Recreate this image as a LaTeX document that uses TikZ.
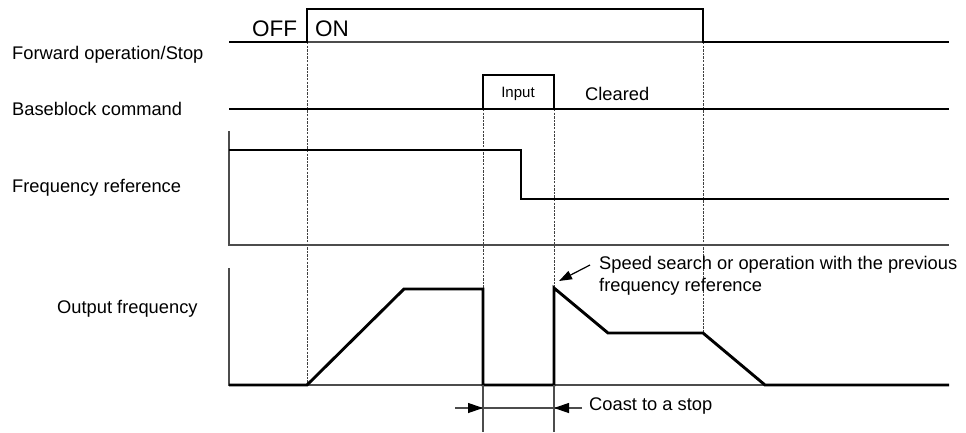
\documentclass[tikz,border=0pt]{standalone}
\usepackage{fontspec}
\setmainfont{Liberation Sans}
\usetikzlibrary{arrows.meta}
\begin{document}
\begin{tikzpicture}[x=1pt,y=-1pt,
  sig/.style={line width=2.9pt,black},
  axisl/.style={line width=1.2pt,black!70},
  guide/.style={line width=0.9pt,black!75,dash pattern=on 2.4pt off 1.2pt},
  lbl/.style={inner sep=0pt,anchor=base west,font=\fontsize{18.3}{22}\selectfont},
  biglbl/.style={inner sep=0pt,anchor=base west,font=\fontsize{22.5}{26}\selectfont},
  smalllbl/.style={inner sep=0pt,anchor=base,font=\fontsize{15}{18}\selectfont},
  tipstyle/.style={-{Triangle[length=15pt,width=10pt,color=black]}},
  pointer/.style={line width=1.2pt,-{Triangle[length=13pt,width=9pt]}}
]
\useasboundingbox (0,0) rectangle (966,432);

% ---- guide (dashed) lines
\coordinate (g1t) at (307,42);  \coordinate (g1b) at (307,385);
\coordinate (g2t) at (483,109); \coordinate (g2b) at (483,289);
\coordinate (g3t) at (554,109); \coordinate (g3b) at (554,288);
\coordinate (g4t) at (703,42);  \coordinate (g4b) at (703,333);
\draw[guide] (g1t) -- (g1b);
\draw[guide] (g2t) -- (g2b);
\draw[guide] (g3t) -- (g3b);
\draw[guide] (g4t) -- (g4b);

% ---- axes
\draw[axisl] (229,131) -- (229,245) -- (949,245);
\draw[axisl] (229,268) -- (229,385) -- (949,385);
\draw[axisl] (307,42) -- (703,42);

% ---- Forward operation/Stop
\draw[sig] (229,42) -- (307,42) -- (307,9) -- (703,9) -- (703,42) -- (949,42);
% ---- Baseblock command
\draw[sig] (229,109) -- (483,109) -- (483,75) -- (554,75) -- (554,109) -- (949,109);
\draw[sig] (483,109) -- (554,109);
% ---- Frequency reference
\draw[sig] (229,150) -- (521,150) -- (521,199) -- (949,199);
% ---- Output frequency
\draw[sig] (229,385) -- (307,385) -- (404,289) -- (483,289) -- (483,385) -- (554,385)
  -- (554,288) -- (608,333) -- (703,333) -- (765,385) -- (949,385);

% ---- labels
\node[lbl] (lfwd) at (12,59) {Forward operation/Stop};
\node[lbl] (lbb) at (12,115) {Baseblock command};
\node[lbl] (lfr) at (12,192) {Frequency reference};
\node[lbl] (lof) at (57,313) {Output frequency};
\node[biglbl] (loff) at (252,36.5) {OFF};
\node[biglbl] (lon) at (315,36.5) {ON};
\node[smalllbl] (linp) at (518,97) {Input};
\node[lbl] (lclr) at (585,100) {Cleared};
\node[lbl] (lspd) at (599,269) {Speed search or operation with the previous};
\node[lbl] (lspd2) at (599,291.5) {frequency reference};
\node[lbl] (lcoast) at (589,410) {Coast to a stop};

% ---- speed search pointer
\coordinate (ps) at (590,265);
\coordinate (pe) at (559,281);
\draw[pointer] (ps) -- (pe);

% ---- coast dimension
\coordinate (d1) at (483,385); \coordinate (d1b) at (483,432);
\coordinate (d2) at (554,385); \coordinate (d2b) at (554,432);
\draw[axisl] (d1) -- (d1b);
\draw[axisl] (d2) -- (d2b);
\coordinate (al) at (455,408); \coordinate (ar) at (582,408);
\coordinate (dl) at (483,408); \coordinate (dr) at (554,408);
\draw[axisl] (al) -- (ar);
\draw[axisl,tipstyle] (al) -- (dl);
\draw[axisl,tipstyle] (ar) -- (dr);
\end{tikzpicture}
\end{document}
